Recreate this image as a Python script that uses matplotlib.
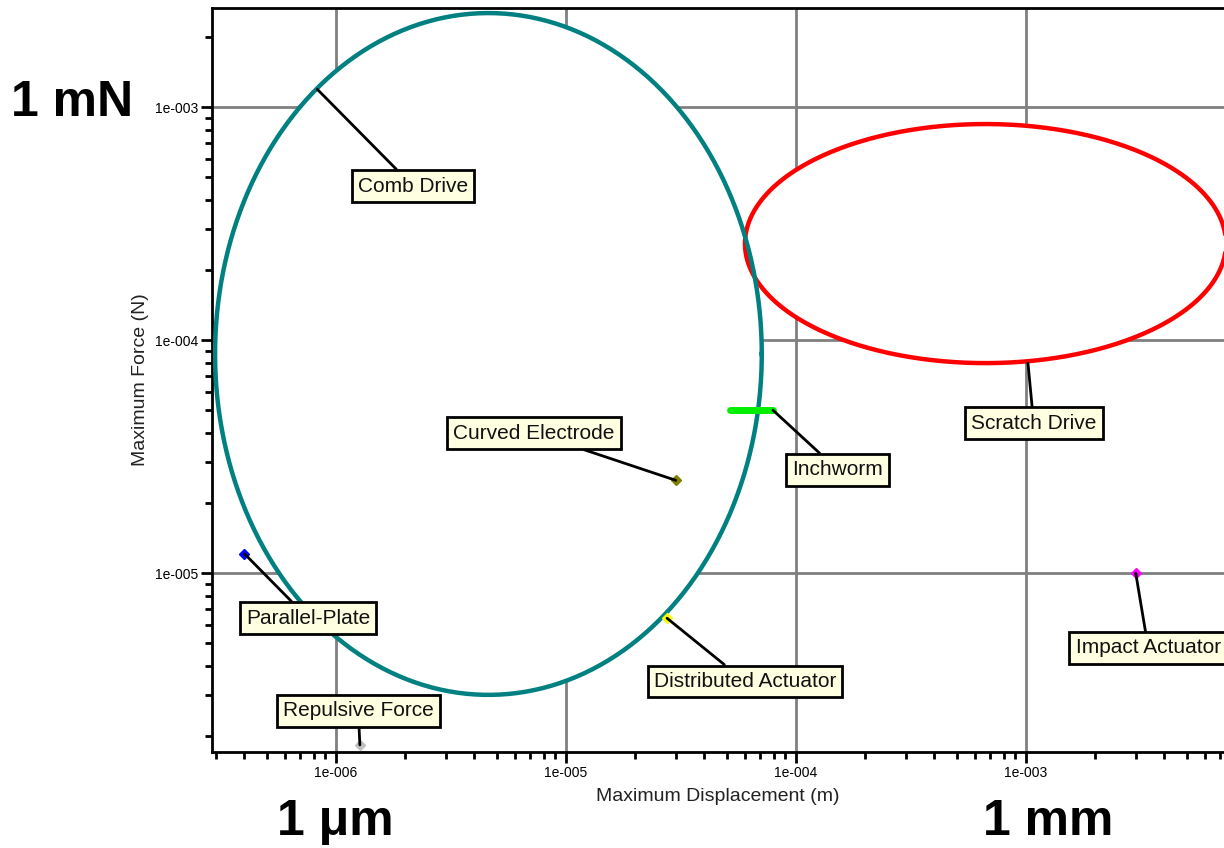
import numpy as np
import matplotlib.pyplot as plt
from matplotlib.ticker import LogLocator, FuncFormatter, NullFormatter

plt.rcParams['font.family'] = ['Liberation Sans', 'DejaVu Sans']

# actuator regions (ellipses in log-log space): x range, y range
comb_x = [2.98e-7, 7.1e-5]
comb_y = [3.0e-6, 2.53e-3]
scratch_x = [6.0e-5, 7.4e-3]
scratch_y = [7.96e-5, 8.45e-4]

# point actuators
pt_names = ['Curved Electrode', 'Parallel-Plate', 'Repulsive Force',
            'Distributed Actuator', 'Impact Actuator']
pt_x = [3.0e-5, 4.0e-7, 1.27e-6, 2.75e-5, 3.0e-3]
pt_y = [2.5e-5, 1.21e-5, 1.83e-6, 6.4e-6, 1.0e-5]
pt_colors = ['#808000', '#0000ff', '#c0c0c0', '#ffff00', '#ff00ff']

# inchworm: short horizontal band
inch_x = [5.16e-5, 7.94e-5]
inch_y = [5.0e-5, 5.0e-5]

# label anchor points and label centers
lab_names = ['Comb Drive', 'Curved Electrode', 'Inchworm', 'Parallel-Plate',
             'Repulsive Force', 'Distributed Actuator', 'Scratch Drive',
             'Impact Actuator']
lab_px = [8.3e-7, 3.0e-5, 7.94e-5, 4.0e-7, 1.27e-6, 2.75e-5, 1.02e-3, 3.0e-3]
lab_py = [1.19e-3, 2.5e-5, 5.0e-5, 1.21e-5, 1.83e-6, 6.4e-6, 7.96e-5, 1.0e-5]
lab_tx = [2.16e-6, 7.26e-6, 1.52e-4, 7.55e-7, 1.25e-6, 6.0e-5, 1.08e-3, 3.4e-3]
lab_ty = [4.58e-4, 3.99e-5, 2.77e-5, 6.41e-6, 2.56e-6, 3.43e-6, 4.4e-5, 4.77e-6]

xlim = [2.89e-7, 7.26e-3]
ylim = [1.706e-6, 2.66e-3]


def ellipse(xr, yr, n=400):
    lx = np.log10(xr)
    ly = np.log10(yr)
    t = np.linspace(0, 2 * np.pi, n)
    ex = 10 ** (lx.mean() + (lx[1] - lx[0]) / 2 * np.cos(t))
    ey = 10 ** (ly.mean() + (ly[1] - ly[0]) / 2 * np.sin(t))
    return ex, ey


fig = plt.figure(figsize=(12.24, 8.48), dpi=100)
ax = fig.add_axes([212 / 1224, 1 - 752 / 848, 1 - 212 / 1224, (752 - 8) / 848])
ax.set_xscale('log')
ax.set_yscale('log')
ax.set_xlim(xlim)
ax.set_ylim(ylim)

ax.set_axisbelow(True)
ax.grid(True, which='major', color='#808080', lw=2)
ax.xaxis.set_major_locator(LogLocator(base=10))
ax.yaxis.set_major_locator(LogLocator(base=10))
ax.xaxis.set_minor_locator(LogLocator(base=10, subs=np.arange(2, 10)))
ax.yaxis.set_minor_locator(LogLocator(base=10, subs=np.arange(2, 10)))
fmt = FuncFormatter(lambda v, p: '1e-%03d' % round(-np.log10(v)))
ax.xaxis.set_major_formatter(fmt)
ax.yaxis.set_major_formatter(fmt)
ax.xaxis.set_minor_formatter(NullFormatter())
ax.yaxis.set_minor_formatter(NullFormatter())
ax.tick_params(which='major', direction='out', length=8, width=2, labelsize=10,
               pad=2)
ax.tick_params(which='minor', direction='out', length=5, width=2)
ax.spines['right'].set_visible(False)
for s in ['left', 'bottom', 'top']:
    ax.spines[s].set_linewidth(2)

ax.set_xlabel('Maximum Displacement (m)', fontsize=14, color='#222222', labelpad=6)
ax.set_ylabel('Maximum Force (N)', fontsize=14, color='#222222', labelpad=4)

# ellipses: white fills hide the grid, outlines on top
cx, cy = ellipse(comb_x, comb_y)
sx, sy = ellipse(scratch_x, scratch_y)
ax.fill(cx, cy, color='white', zorder=2)
ax.fill(sx, sy, color='white', zorder=2)
ax.plot(sx, sy, color='#ff0000', lw=3.2, zorder=3)
ax.plot(cx, cy, color='#008080', lw=3.2, zorder=3)

ax.plot(inch_x, inch_y, color='#00ee00', lw=5, solid_capstyle='round', zorder=4)
for x, y, c in zip(pt_x, pt_y, pt_colors):
    ax.plot(x, y, marker='D', ms=5.5, color=c, mec=c, zorder=6)

for name, px, py, tx, ty in zip(lab_names, lab_px, lab_py, lab_tx, lab_ty):
    ax.annotate(name, xy=(px, py), xytext=(tx, ty), ha='center', va='center',
                fontsize=15, color='#111111', zorder=7, annotation_clip=False,
                bbox=dict(boxstyle='square,pad=0.3', fc='#ffffe1', ec='black', lw=2),
                arrowprops=dict(arrowstyle='-', color='black', lw=2,
                                shrinkA=0, shrinkB=0))

fig.text(72 / 1224, 1 - 103 / 848, '1 mN', fontsize=36, fontweight='bold',
         ha='center', va='center')
fig.text(335 / 1224, 1 - 822 / 848, '1 \u03bcm', fontsize=36, fontweight='bold',
         ha='center', va='center')
fig.text(1048 / 1224, 1 - 822 / 848, '1 mm', fontsize=36, fontweight='bold',
         ha='center', va='center')

fig.savefig('out.png', dpi=100)
